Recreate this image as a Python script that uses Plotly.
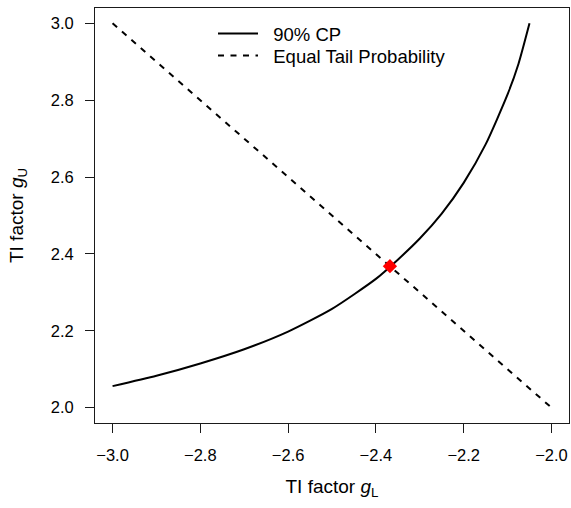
import plotly.graph_objects as go

# Data
cp_gL = [-3.0, -2.9, -2.8, -2.7, -2.6, -2.5, -2.4, -2.35, -2.3, -2.25, -2.2, -2.15, -2.1, -2.075, -2.05]
cp_gU = [2.056, 2.083, 2.115, 2.152, 2.198, 2.257, 2.335, 2.385, 2.44, 2.505, 2.585, 2.685, 2.815, 2.895, 3.0]
eq_gL = [-3.0, -2.0]
eq_gU = [3.0, 2.0]
pt_gL = [-2.368]
pt_gU = [2.368]

x_ticks = [-3.0, -2.8, -2.6, -2.4, -2.2, -2.0]
x_ticktext = ["\u22123.0", "\u22122.8", "\u22122.6", "\u22122.4", "\u22122.2", "\u22122.0"]
y_ticks = [2.0, 2.2, 2.4, 2.6, 2.8, 3.0]
y_ticktext = ["2.0", "2.2", "2.4", "2.6", "2.8", "3.0"]

FONT = "Liberation Sans, Arial, Helvetica, sans-serif"
NB = "\u00a0"

fig = go.Figure()
fig.add_trace(go.Scatter(x=cp_gL, y=cp_gU, mode="lines", name=NB * 2 + "90% CP", legend="legend",
                         line=dict(color="black", width=2, shape="spline", smoothing=0.6)))
fig.add_trace(go.Scatter(x=eq_gL, y=eq_gU, mode="lines", name=NB * 2 + "Equal Tail Probability",
                         legend="legend2",
                         line=dict(color="black", width=2, dash="6px,6.5px")))
fig.add_trace(go.Scatter(x=pt_gL, y=pt_gU, mode="markers", showlegend=False,
                         marker=dict(symbol="diamond", size=11, color="red", line=dict(width=0))))

axis_common = dict(showline=True, mirror=True, linecolor="#1a1a1a", linewidth=1,
                   ticks="outside", ticklen=9, tickwidth=1, tickcolor="#1a1a1a",
                   showgrid=False, zeroline=False,
                   tickfont=dict(family=FONT, size=16.5, color="black"))

leg_common = dict(xanchor="left", yanchor="top", bgcolor="rgba(0,0,0,0)", borderwidth=0,
                  itemwidth=40, font=dict(family=FONT, size=18.5, color="black"))
leg_x = (213 - 95) / 474

fig.update_layout(
    width=571, height=508, autosize=False,
    margin=dict(l=95, r=2, t=8, b=85),
    paper_bgcolor="white", plot_bgcolor="white",
    font=dict(family=FONT, size=16, color="black"),
    xaxis=dict(range=[-3.04, -1.96], tickvals=x_ticks, ticktext=x_ticktext,
               ticklabelstandoff=8,
               title=dict(text="TI factor <i>g</i><sub>L</sub>", standoff=16,
                          font=dict(family=FONT, size=19, color="black")),
               **axis_common),
    yaxis=dict(range=[1.96, 3.04], tickvals=y_ticks, ticktext=y_ticktext,
               ticklabelstandoff=8,
               title=dict(text="TI factor <i>g</i><sub>U</sub>", standoff=22,
                          font=dict(family=FONT, size=19, color="black")),
               **axis_common),
    legend=dict(x=leg_x, y=0.983, **leg_common),
    legend2=dict(x=leg_x, y=0.930, **leg_common),
    showlegend=True,
)

fig.write_html("out.html", config={"displayModeBar": False},
               post_script="document.body.style.margin='0';")
